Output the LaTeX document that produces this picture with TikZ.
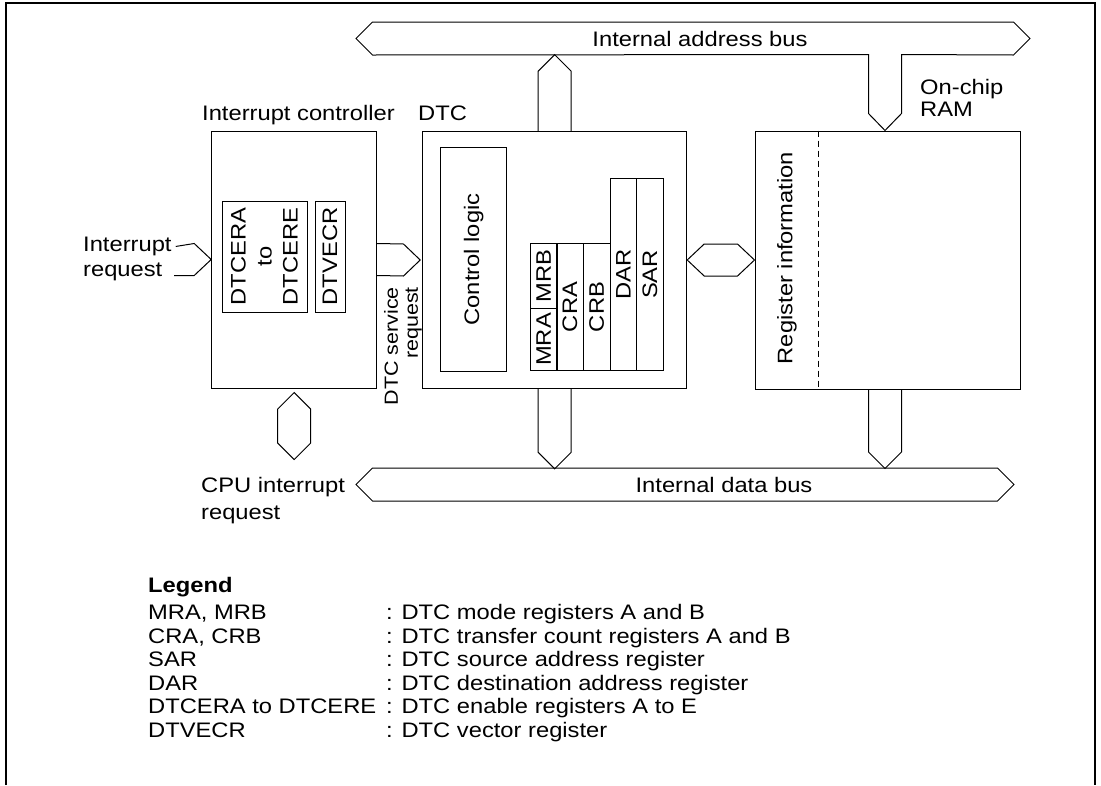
\documentclass[tikz,border=0pt]{standalone}
\usepackage{fontspec}
\setmainfont{Liberation Sans}[FakeStretch=1.13]
\usetikzlibrary{calc}

\tikzset{
  blk/.style={draw, line width=1pt, inner sep=0pt},
  reg/.style={blk, rotate=90, minimum height=26.6pt},
  bus/.style={draw, line width=1pt, line join=miter},
  lbl/.style={inner sep=0pt},
}

\begin{document}
\begin{tikzpicture}[x=1pt,y=-1pt,font=\fontsize{21}{24}\selectfont]
  \useasboundingbox (0,0) rectangle (1101,785);
  \draw[line width=2pt] (5.5,785) -- (5.5,3) -- (1095,3) -- (1095,785);

  \node[blk, minimum width=165pt, minimum height=257pt] (ic) at (294.2,259.5) {};
  \node[blk, minimum width=264pt, minimum height=256.6pt] (dtc) at (554.7,260) {};
  \node[blk, minimum width=265pt, minimum height=258pt] (ram) at (887.5,260) {};
  \draw[line width=1pt, dash pattern=on 6pt off 4pt] ($(ram.north west)+(64.3,0)$) -- ($(ram.south west)+(64.3,0)$);

  \node[blk, rotate=90, minimum width=111pt, minimum height=85pt, align=center,
        font=\fontsize{21}{26}\selectfont] (era) at (264.5,256.5) {DTCERA\\to\\DTCERE};
  \node[blk, rotate=90, minimum width=111pt, minimum height=30pt] (vecr) at (330,256.5) {DTVECR};
  \node[blk, rotate=90, minimum width=224.4pt, minimum height=66pt] (ctl) at (473.7,259.5) {Control logic};
  \node[reg, minimum width=62.4pt] (mra) at (543.7,339.5) {MRA};
  \node[reg, minimum width=65pt] (mrb) at (543.7,275.8) {MRB};
  \node[reg, minimum width=127.4pt] (cra) at (570,307) {CRA};
  \node[reg, minimum width=127.4pt] (crb) at (596.7,307) {CRB};
  \node[reg, minimum width=192.4pt] (dar) at (623.3,274.5) {DAR};
  \node[reg, minimum width=192.4pt] (sar) at (650,274.5) {SAR};
  \node[lbl, rotate=90] (reginfo) at (787,258) {Register information};

  \node[lbl, anchor=base] (abus) at (700,46) {Internal address bus};
  \node[lbl, anchor=base] (dbus) at (724,492.5) {Internal data bus};
  \node[lbl, anchor=base west, align=left, font=\fontsize{21}{21.5}\selectfont] (ramlbl) at (920,116) {On-chip\\RAM};
  \node[lbl, anchor=base west] (iclbl) at (202,120.5) {Interrupt controller};
  \node[lbl, anchor=base west] (dtclbl) at (418,120.5) {DTC};
  \node[lbl, anchor=base west, align=left, font=\fontsize{21}{25}\selectfont] (irq) at (83,276.5) {Interrupt\\request};
  \node[lbl, anchor=base west, align=left, font=\fontsize{21}{26.5}\selectfont] (cpuirq) at (201,519) {CPU interrupt\\request};
  \node[lbl, rotate=90, anchor=east, align=right, font=\fontsize{19}{20}\selectfont] (dsr) at (403,287) {DTC service\\request};

  \draw[bus] (356,38.5) -- ++(16.5,-16.5) -- (1013.5,22) -- ++(16.5,16.5) -- ++(-16.5,16.5)
    -- ($(ram.north)+(14,-76)$) -- ($(ram.north)+(14,-17)$) -- ($(ram.north)+(-2.5,0)$)
    -- ($(ram.north)+(-19,-17)$) -- ($(ram.north)+(-19,-76)$) -- (372.5,55) -- cycle;
  \draw[bus] (356,484.5) -- ++(16.5,-16.5) -- (997.5,468) -- ++(16.5,16.5) -- ++(-16.5,16.5) -- (372.5,501) -- cycle;

  \draw[bus] ($(dtc.north)+(-16.5,0)$) -- ++(0,-60) -- ++(16.5,-16.5) -- ++(16.5,16.5) -- ++(0,60);
  \draw[bus] ($(dtc.south)+(-16.5,0)$) -- ++(0,63.5) -- ++(16.5,16.5) -- ++(16.5,-16.5) -- ++(0,-63.5);
  \draw[bus] ($(ram.south)+(-19,0)$) -- ++(0,62.5) -- ++(16.5,16.5) -- ++(16.5,-16.5) -- ++(0,-62.5);
  \draw[bus] ($(ic.south)+(0,4)$) -- ++(16.5,16.5) -- ++(0,34) -- ++(-16.5,16.5) -- ++(-16.5,-16.5) -- ++(0,-34) -- cycle;

  \draw[bus] ($(irq.east)+(4,-12.5)$) -- ($(ic.west)+(-17,-16)$) -- (ic.west) -- ($(ic.west)+(-17,16)$) -- ($(ic.west)+(-37,16)$);
  \draw[bus] ($(ic.east)+(0,-16)$) -- ($(dtc.west)+(-18.7,-16)$) -- ($(dtc.west)+(-2,0)$) -- ($(dtc.west)+(-18.7,16)$) -- ($(ic.east)+(0,16)$);
  \draw[bus] (dtc.east) -- ++(17,-16) -- ($(ram.west)+(-17,-16)$) -- (ram.west) -- ($(ram.west)+(-17,16)$) -- ($(dtc.east)+(17,16)$) -- cycle;

  \node[lbl, anchor=base west, font=\fontsize{21}{24}\bfseries] (legend) at (148,592) {Legend};
  \foreach \nm/\txt [count=\i] in {{MRA, MRB}/{DTC mode registers A and B},
      {CRA, CRB}/{DTC transfer count registers A and B},
      SAR/{DTC source address register},
      DAR/{DTC destination address register},
      {DTCERA to DTCERE}/{DTC enable registers A to E},
      DTVECR/{DTC vector register}} {
    \node[lbl, anchor=base west] (key\i) at (148,{596+23.5*\i}) {\nm};
    \node[lbl, anchor=base west] (val\i) at (386,{596+23.5*\i}) {: \txt};
  }
\end{tikzpicture}
\end{document}
